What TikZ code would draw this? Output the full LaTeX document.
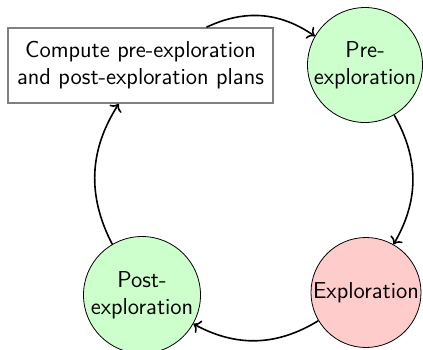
\documentclass[tikz,border=0pt]{standalone}
\usetikzlibrary{arrows.meta}
\begin{document}
\begin{tikzpicture}[x=0.5pt,y=-0.5pt,
  every node/.style={font=\sffamily\fontsize{11.5pt}{13.6pt}\selectfont},
  phase/.style={circle,draw,inner sep=0pt,align=center},
  plan/.style={rectangle,draw=gray,thick,fill=white,inner sep=0pt,
    minimum width=132.5pt,minimum height=37.5pt,align=center},
  flow/.style={->,thick,bend left=30}]
\useasboundingbox (0,0) rectangle (423,349);
\node[plan] (box) at (140.5,65.5) {Compute pre-exploration\\and post-exploration plans};
\node[phase,fill=green!20,minimum size=57.5pt] (pre) at (365,65) {Pre-\\exploration};
\node[phase,fill=red!20,minimum size=55pt] (exp) at (366,292.5) {Exploration};
\node[phase,fill=green!20,minimum size=58.5pt] (post) at (142,295) {Post-\\exploration};
\draw[flow] (box) to (pre);
\draw[flow] (pre) to (exp);
\draw[flow] (exp) to (post);
\draw[flow] (post) to (box);
\end{tikzpicture}
\end{document}
